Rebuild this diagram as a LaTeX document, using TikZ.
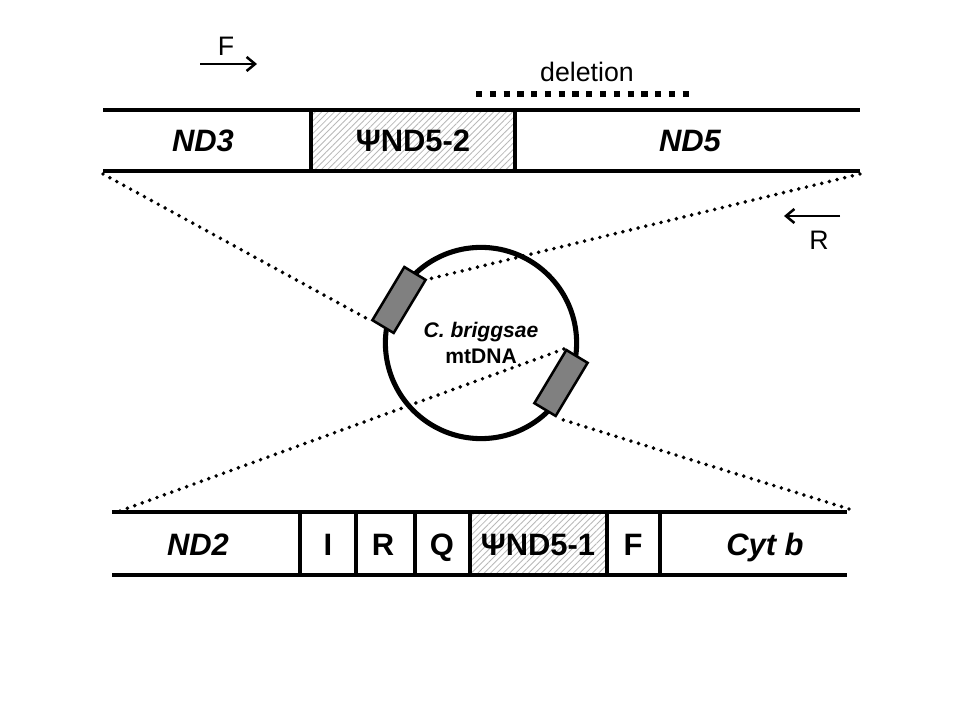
\documentclass[tikz,border=0pt]{standalone}
\usepackage{fontspec}
\setmainfont{Liberation Sans}
\usetikzlibrary{arrows.meta,patterns.meta,positioning}

\begin{document}
\begin{tikzpicture}[x=0.025cm,y=-0.025cm]
\tikzstyle{gene} = [inner sep=0pt, anchor=base, font=\fontsize{22}{26}\selectfont\bfseries\itshape];
\tikzstyle{trna} = [inner sep=0pt, anchor=base, font=\fontsize{22}{26}\selectfont\bfseries];
\tikzstyle{lbl} = [inner sep=0pt, anchor=base, font=\fontsize{19}{23}\selectfont];
\tikzstyle{band} = [line width=3.4pt];
\tikzstyle{sep} = [line width=2.6pt];
\tikzstyle{pseudo} = [pattern={Lines[angle=45,distance=3.2pt,line width=0.6pt]}, pattern color=black!28, draw=black!65, line width=1.2pt];
\tikzstyle{zoomline} = [line width=2.8pt, line cap=round, dash pattern=on 0pt off 5.6pt];
\tikzstyle{deletion} = [line width=4.4pt, dash pattern=on 4.4pt off 5.4pt];
\tikzstyle{site} = [draw, fill=black!50, line width=1.8pt, minimum width=1.55cm, minimum height=0.62cm, inner sep=0pt, rotate=59];
\tikzstyle{primer} = [line width=1.8pt, -{Straight Barb[length=6pt,width=10pt]}];

\useasboundingbox (0,0) rectangle (960,720);

% top band
\path[pseudo] (311,110) rectangle (515,171);
\draw[band] (103,110) -- (860,110);
\draw[band] (103,171) -- (860,171);
\draw[sep] (311,110) -- (311,171);
\draw[sep] (515,110) -- (515,171);
\node at (203,152) [gene] (nd3) {ND3};
\node at (413,152) [trna] (psitwo) {ΨND5-2};
\node at (690,152) [gene] (nd5) {ND5};

% primers and deletion
\coordinate (fstart) at (200,64);
\coordinate (fend) at (257,64);
\coordinate (rstart) at (840,216);
\coordinate (rend) at (784,216);
\node at (226,56) [lbl] (fname) {F};
\node at (819,250) [lbl] (rname) {R};
\draw[primer] (fstart) -- (fend);
\draw[primer] (rstart) -- (rend);
\node at (587,82) [lbl] (del) {deletion};
\coordinate (delA) at (476,94);
\coordinate (delB) at (694,94);
\draw[deletion] (delA) -- (delB);

% bottom band
\path[pseudo] (470,512) rectangle (607,575);
\draw[band] (112,512) -- (847,512);
\draw[band] (112,575) -- (847,575);
\foreach \x in {300,356,415,470,607,660}
  \draw[sep] (\x,512) -- (\x,575);
\node at (198,555) [gene] (nd2) {ND2};
\node at (328,555) [trna] (tI) {I};
\node at (383,555) [trna] (tR) {R};
\node at (442,555) [trna] (tQ) {Q};
\node at (538,555) [trna] (psione) {ΨND5-1};
\node at (633,555) [trna] (tF) {F};
\node at (765,555) [gene] (cytb) {Cyt b};

% circle
\node at (481,343) [circle, draw, line width=3.6pt, minimum size=4.78cm, inner sep=0pt, align=center, font=\fontsize{15}{18}\selectfont\bfseries] (mt) {\itshape C. briggsae\\mtDNA};
\node at (399,300) [site] (lsite) {};
\node at (561,383) [site] (rsite) {};

\coordinate (tl) at (103,174);
\coordinate (tr) at (860,174);
\coordinate (bl) at (120,511);
\coordinate (br) at (849,509);
\draw[zoomline] (tl) -- (lsite.north west);
\draw[zoomline] (tr) -- (lsite.south east);
\draw[zoomline] (bl) -- (rsite.north east);
\draw[zoomline] (br) -- (rsite.south west);

\end{tikzpicture}
\end{document}
